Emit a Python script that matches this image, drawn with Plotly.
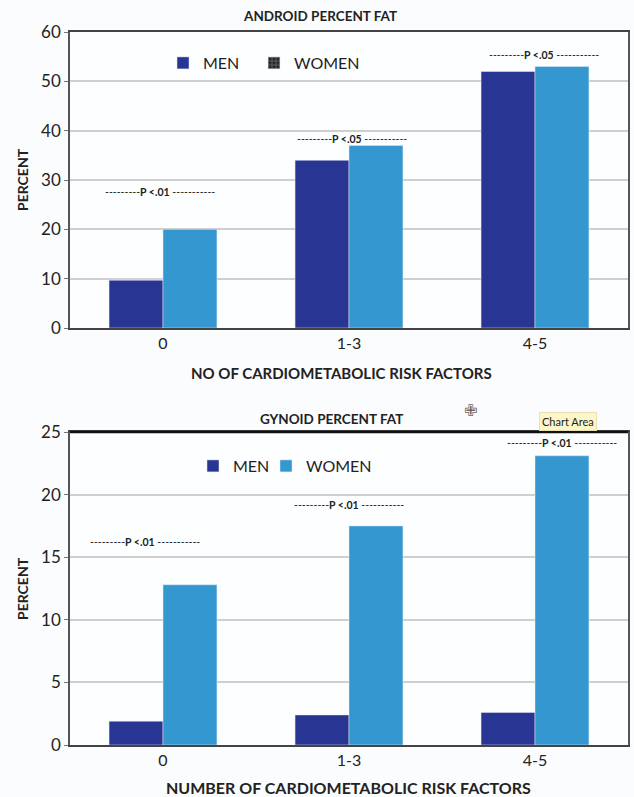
import plotly.graph_objects as go
from plotly.subplots import make_subplots

categories = ["0", "1-3", "4-5"]
android_men = [9.7, 34.0, 52.0]
android_women = [20.0, 37.0, 53.0]
gynoid_men = [1.9, 2.4, 2.6]
gynoid_women = [12.8, 17.5, 23.1]
android_p = ["P <.01", "P <.05", "P <.05"]
gynoid_p = ["P <.01", "P <.01", "P <.01"]

MEN_C = "#283593"
WOMEN_C = "#3597d0"
FONT = "Lato"
W, H = 634, 797

fig = make_subplots(rows=2, cols=1)

# top chart
fig.add_trace(go.Bar(x=categories, y=android_men, marker_color=MEN_C, showlegend=False, offsetgroup="m"), row=1, col=1)
fig.add_trace(go.Bar(x=categories, y=android_women, marker_color=WOMEN_C, showlegend=False, offsetgroup="w"), row=1, col=1)
# legend-only entries for the top chart (share offset groups so bars keep full width)
fig.add_trace(go.Bar(x=[None], y=[None], name="MEN", marker_color=MEN_C, legend="legend", offsetgroup="m"), row=1, col=1)
fig.add_trace(go.Bar(x=[None], y=[None], name="WOMEN", offsetgroup="w", legend="legend3",
                     marker=dict(color="#262626", pattern=dict(shape="+", fgcolor="#c8c8c8", size=5, solidity=0.3))),
              row=1, col=1)

# bottom chart
fig.add_trace(go.Bar(x=categories, y=gynoid_men, name="MEN", marker_color=MEN_C, legend="legend2", offsetgroup="m"), row=2, col=1)
fig.add_trace(go.Bar(x=categories, y=gynoid_women, name="WOMEN", marker_color=WOMEN_C, legend="legend4", offsetgroup="w"), row=2, col=1)

def leg(x, y):
    return dict(orientation="h", x=x / W, y=1 - y / H, xanchor="left", yanchor="middle",
                bgcolor="rgba(0,0,0,0)", font=dict(size=16, family=FONT, color="#222"))

xd = [70 / W, 628 / W]
fig.update_layout(
    width=W, height=H,
    margin=dict(l=0, r=0, t=0, b=0, autoexpand=False),
    paper_bgcolor="#fbfcfd",
    plot_bgcolor="#fdfeff",
    barmode="group", bargap=0.42, bargroupgap=0,
    font=dict(family=FONT, color="#222"),
    xaxis=dict(domain=xd),
    xaxis2=dict(domain=xd),
    yaxis=dict(domain=[1 - 328 / H, 1 - 32 / H]),
    yaxis2=dict(domain=[1 - 745 / H, 1 - 432 / H]),
    legend=leg(163, 63),
    legend3=leg(254, 63),
    legend2=leg(193, 466),
    legend4=leg(266, 466),
)

for ax in ["xaxis", "xaxis2"]:
    fig.layout[ax].update(showgrid=False, showline=True, linecolor="#444", linewidth=1.5, mirror=True,
                          automargin=False, tickfont=dict(size=16, family=FONT, color="#222"), ticks="")
fig.layout["yaxis"].update(range=[0, 60], dtick=10)
fig.layout["yaxis2"].update(range=[0, 25], dtick=5)
for ax in ["yaxis", "yaxis2"]:
    fig.layout[ax].update(showgrid=True, gridcolor="#cfcfcf", gridwidth=1.5, showline=True, linecolor="#555",
                          linewidth=1.5, mirror=True, ticks="outside", ticklen=4, tickcolor="#777",
                          automargin=False, tickfont=dict(size=17, family=FONT, color="#222"), zeroline=False)

DASH_L = "---------"
DASH_R = " -----------"

def ptxt(t):
    return DASH_L + "<b>" + t + "</b>" + DASH_R

anns = []
android_p_y = [27.5, 38.3, 55.3]
android_shift = [-3, 3, 9]
for c, t, yv, sh in zip(categories, android_p, android_p_y, android_shift):
    anns.append(dict(x=c, y=yv, xref="x", yref="y", text=ptxt(t), showarrow=False,
                     font=dict(size=10.5, family=FONT, color="#222"), xshift=sh))
gynoid_p_y = [16.2, 19.2, 24.1]
gynoid_shift = [-18, 0, 27]
for c, t, yv, sh in zip(categories, gynoid_p, gynoid_p_y, gynoid_shift):
    anns.append(dict(x=c, y=yv, xref="x2", yref="y2", text=ptxt(t), showarrow=False,
                     font=dict(size=10.5, family=FONT, color="#222"), xshift=sh))

def pa(text, x, y, size, bold=True, angle=0, family=FONT, color="#222", **kw):
    d = dict(text=("<b>%s</b>" % text) if bold else text, x=x / W, y=1 - y / H, xref="paper", yref="paper",
             showarrow=False, textangle=angle, font=dict(size=size, family=family, color=color),
             xanchor="center", yanchor="middle")
    d.update(kw)
    return d

anns.append(pa("ANDROID PERCENT FAT", 320, 16, 13.5))
anns.append(pa("GYNOID PERCENT FAT", 331, 419, 13.5))
anns.append(pa("PERCENT", 22, 180, 14, angle=-90))
anns.append(pa("PERCENT", 22, 589, 14, angle=-90))
anns.append(pa("NO OF CARDIOMETABOLIC RISK FACTORS", 341, 373, 15))
anns.append(pa("NUMBER OF CARDIOMETABOLIC RISK FACTORS", 348, 787, 16))
anns.append(pa("Chart Area", 568, 421, 11, bold=False, bgcolor="#fdf6c8", borderpad=2,
               bordercolor="#e8e0b0", borderwidth=1))
anns.append(pa("✙", 470, 410, 16, bold=False, family="DejaVu Sans", color="#666"))
fig.update_layout(annotations=anns)

# top border of the lower chart is drawn heavier in the reference
fig.add_shape(type="line", xref="x2 domain", yref="y2 domain", x0=0, x1=1, y0=1, y1=1,
              line=dict(color="#111", width=2.5))

fig.write_html("out.html", config={"displayModeBar": False},
               post_script="document.body.style.margin='0';document.body.style.overflow='hidden';")
